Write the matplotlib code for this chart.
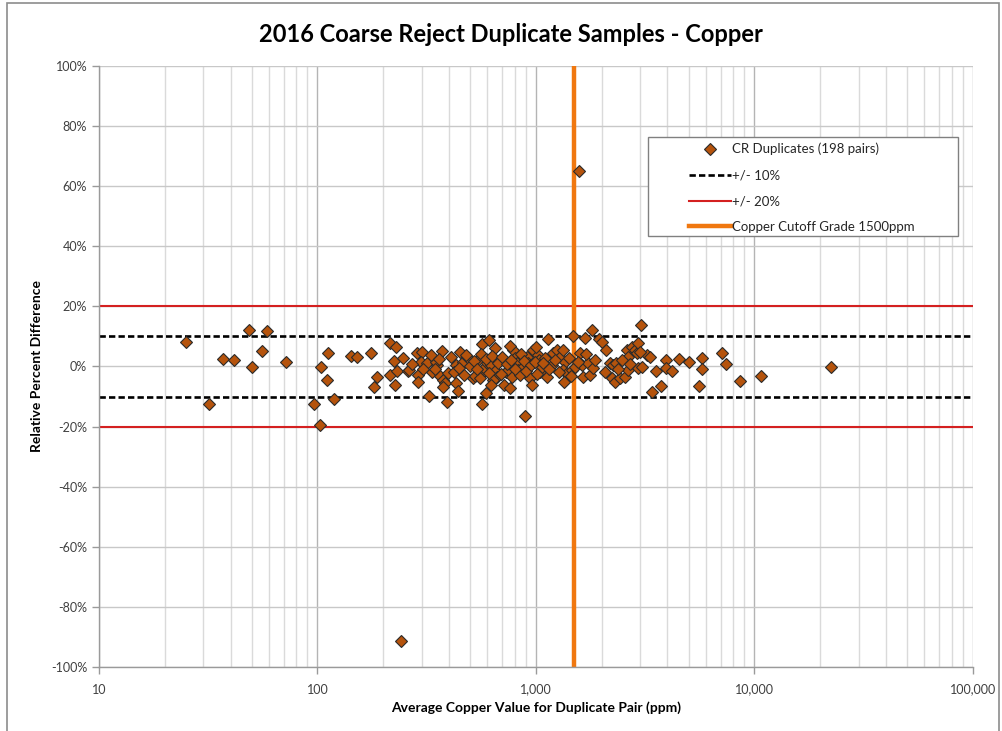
import numpy as np
import matplotlib
matplotlib.use("Agg")
import matplotlib.pyplot as plt
from matplotlib.ticker import FixedLocator, FuncFormatter, LogLocator, NullFormatter
from matplotlib.patches import Rectangle

plt.rcParams['font.family'] = ['Lato', 'DejaVu Sans']
plt.rcParams['axes.unicode_minus'] = False

#
# coarse reject duplicate pairs: average Cu (ppm) and relative percent difference (%)
#
avg_ppm = [
    25, 32, 37, 41.5, 48.6, 50, 55.7, 59, 72, 96,
    103, 104, 112, 110, 119, 142, 152, 176, 181, 187,
    215, 229, 224, 247, 215, 232, 226, 259, 241, 262,
    284, 301, 298, 316, 287, 287, 323, 336, 354, 350,
    370, 364, 376, 385, 376, 393, 432, 432, 449, 463,
    488, 514, 525, 542, 565, 554, 565, 608, 648, 588,
    565, 578, 597, 622, 648, 660, 635, 714, 729, 745,
    760, 780, 786, 803, 821, 829, 845, 875, 894, 913,
    923, 939, 960, 971, 1020, 1030, 1043, 1066, 1122, 1134,
    1100, 1185, 1197, 1250, 1288, 1330, 1360, 1330, 1390, 1345,
    1480, 1465, 1508, 1589, 1625, 1640, 1680, 1730, 1800, 1766,
    1820, 1940, 2000, 2100, 2180, 2250, 2330, 2220, 2300, 2420,
    2550, 2600, 2640, 2750, 2840, 2900, 2930, 3040, 2640, 2930,
    3070, 3220, 2990, 3325, 3410, 3540, 3730, 3920, 3920, 4200,
    4520, 5020, 5760, 5760, 5600, 7100, 7400, 8590, 10700, 22400,
    1580, 270, 305, 330, 345, 360, 395, 410, 420, 445,
    470, 480, 500, 520, 535, 560, 590, 610, 630, 670,
    690, 700, 735, 770, 800, 850, 880, 905, 950, 990,
    1010, 1080, 1150, 1220, 1270, 1420, 1440, 1550, 1700, 1870,
    2060, 2380, 2480, 2700, 1000, 760, 440, 620,
]
rpd_pct = [
    8.0, -12.5, 2.5, 2.3, 12.3, -0.3, 5.3, 11.8, 1.4, -12.4,
    -19.5, -0.2, 4.5, -4.5, -10.8, 3.5, 3.2, 4.5, -6.8, -3.5,
    7.8, 6.5, 1.8, 2.8, -2.8, -1.5, -6.2, -1.5, -91.4, -1.2,
    4.5, 4.8, 1.5, 1.2, -2.8, -5.2, -9.8, -1.8, 0.5, 1.5,
    5.2, -3.2, -4.5, -5.5, -6.8, -11.8, 0.5, -5.5, 4.8, 1.5,
    2.8, -3.8, -3.2, 2.2, -2.2, -3.8, 7.5, 8.8, 6.2, -8.8,
    -12.5, -0.5, 1.2, 0.5, -1.5, -3.5, -4.5, -6.2, -1.8, -1.2,
    -7.2, -3.5, 5.5, 2.8, 1.2, -1.2, -2.8, -0.2, -16.5, 3.2,
    1.2, -3.8, -6.2, 5.5, 3.8, 2.2, -1.8, -0.2, -3.5, 9.2,
    2.8, 0.5, 4.5, 5.5, 3.2, 5.5, 1.5, -1.2, -2.2, -5.2,
    10.2, -1.2, -0.2, 4.5, 0.5, -3.5, 9.5, 1.2, 12.0, -2.8,
    -0.5, 9.2, 8.2, 5.5, 1.2, 0.5, 1.2, -3.8, -5.2, -3.8,
    -3.5, 5.5, 3.2, 6.5, 5.5, 4.5, 7.8, 13.8, -1.2, -0.5,
    -0.2, 3.8, 4.8, 3.2, -8.5, -1.5, -6.5, 2.2, -0.5, -1.5,
    2.5, 1.5, 2.8, -0.8, -6.5, 4.5, 0.8, -4.8, -3.2, -0.2,
    65.0, 0.8, -1.0, 3.8, -0.8, 2.5, -2.2, 3.0, -1.8, -0.5,
    -2.8, 3.8, 0.2, 1.8, -0.8, 4.2, 2.5, -2.2, 3.5, 1.0,
    -2.5, 3.2, 0.8, 2.0, -0.8, 4.0, 1.8, -1.5, 0.5, 1.5,
    -2.5, 1.0, -1.0, 2.2, -2.0, 2.8, -3.2, 1.5, 4.0, 2.2,
    -1.8, -1.0, 2.0, 0.8, 6.5, 6.8, -8.0, -6.0,
]

limit_10 = 10
limit_20 = 20
cutoff_ppm = 1500

x_ticks = [10, 100, 1000, 10000, 100000]
y_ticks = [-100, -80, -60, -40, -20, 0, 20, 40, 60, 80, 100]

fig = plt.figure(figsize=(10.03, 7.31), dpi=100)
ax = fig.add_axes([0.0987, 0.0876, 0.9700 - 0.0987, 0.9097 - 0.0876])

ax.set_xscale('log')
ax.set_xlim(10, 100000)
ax.set_ylim(-100, 100)

# grid: decades darker, sub-decades lighter
ax.xaxis.set_major_locator(FixedLocator(x_ticks))
ax.xaxis.set_minor_locator(LogLocator(base=10, subs=np.arange(2, 10)))
ax.xaxis.set_minor_formatter(NullFormatter())
ax.xaxis.set_major_formatter(FuncFormatter(lambda v, p: '{:,.0f}'.format(v)))
ax.yaxis.set_major_locator(FixedLocator(y_ticks))
ax.yaxis.set_major_formatter(FuncFormatter(lambda v, p: '{:.0f}%'.format(v)))

ax.grid(which='major', axis='x', color='#b4b4b4', lw=1.0, zorder=0)
ax.grid(which='minor', axis='x', color='#dadada', lw=1.0, zorder=0)
ax.grid(which='major', axis='y', color='#c8c8c8', lw=1.0, zorder=0)
ax.set_axisbelow(True)

ax.tick_params(axis='both', which='major', direction='out', length=5, width=1,
               color='#9a9a9a', labelcolor='#404040', labelsize=9)
ax.tick_params(axis='x', which='major', pad=7)
ax.tick_params(axis='x', which='minor', length=0)
for side in ['top', 'right']:
    ax.spines[side].set_visible(False)
for side in ['left', 'bottom']:
    ax.spines[side].set_color('#9a9a9a')
    ax.spines[side].set_linewidth(1.0)

# acceptance bands and cutoff grade
ax.axhline(limit_10, color='black', lw=1.9, dashes=(2.4, 1.2), zorder=2,
           label='+/- 10%')
ax.axhline(-limit_10, color='black', lw=1.9, dashes=(2.4, 1.2), zorder=2)
ax.axhline(limit_20, color='#d42020', lw=1.5, zorder=2, label='+/- 20%')
ax.axhline(-limit_20, color='#d42020', lw=1.5, zorder=2)
ax.axvline(cutoff_ppm, color='#f07810', lw=3.2, zorder=2,
           label='Copper Cutoff Grade 1500ppm')

ax.plot(avg_ppm, rpd_pct, ls='none', marker='D', ms=6.5, mfc='#b5530c',
        mec='#2a2a2a', mew=0.8, zorder=3, label='CR Duplicates (198 pairs)')

# legend without its own frame; the box is drawn wider, as a separate patch
handles, labels = ax.get_legend_handles_labels()
order = [3, 0, 1, 2]
leg = ax.legend([handles[i] for i in order], [labels[i] for i in order],
                loc='upper left', bbox_to_anchor=(0.675, 0.872),
                fontsize=9.5, frameon=False, handlelength=3.2,
                handletextpad=0.05, labelspacing=1.05, borderpad=0,
                borderaxespad=0)
for t in leg.get_texts():
    t.set_color('#262626')
ax.add_patch(Rectangle((0.628, 0.717), 0.355, 0.165, transform=ax.transAxes,
                       facecolor='white', edgecolor='#808080', lw=1.0,
                       zorder=4))
leg.set_zorder(5)

ax.set_xlabel('Average Copper Value for Duplicate Pair (ppm)', fontsize=10,
              fontweight='bold', labelpad=4)
ax.set_ylabel('Relative Percent Difference', fontsize=10, fontweight='bold',
              labelpad=6)

fig.text(0.509, 0.953, '2016 Coarse Reject Duplicate Samples - Copper',
         ha='center', va='center', fontsize=17, fontweight='bold')

# chart border
fig.patches.append(Rectangle((7 / 1003, -0.01), 992 / 1003, 1.0 - 3 / 731 + 0.01,
                             transform=fig.transFigure, fill=False,
                             edgecolor='#8c8c8c', lw=1.2))

fig.savefig('out.png', dpi=100)
